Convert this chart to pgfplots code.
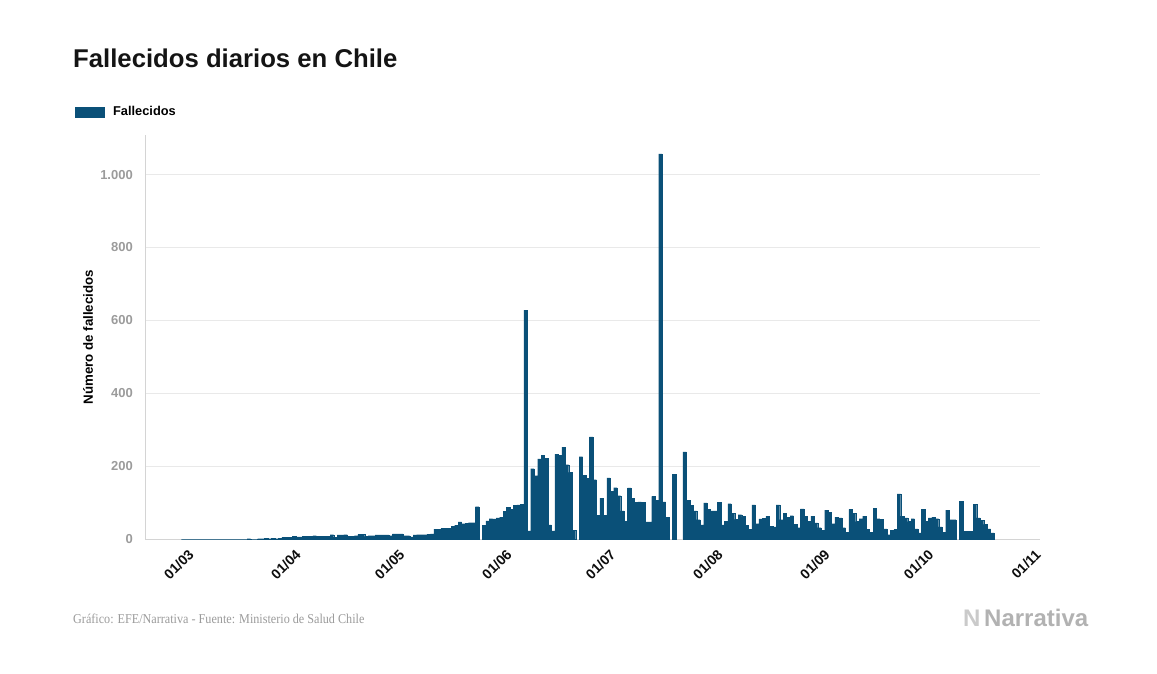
\documentclass[border=0pt]{standalone}
\usepackage{fontspec}
\setmainfont{Liberation Sans}
\newfontfamily\footfont[FakeStretch=0.9]{Liberation Serif}
\usepackage{pgfplots}
\pgfplotsset{compat=1.18}
\definecolor{barc}{HTML}{0A5078}
\definecolor{gridc}{HTML}{E9E9E9}
\definecolor{axc}{HTML}{D4D4D4}
\definecolor{tickg}{HTML}{9B9B9B}
\definecolor{footg}{HTML}{9A9A9A}
\definecolor{logog}{HTML}{B2B2B2}
\definecolor{logol}{HTML}{CACACA}
\begin{document}
\begin{tikzpicture}[x=1pt,y=1pt]
\path[use as bounding box] (0,0) rectangle (1157,-674);
\node[anchor=base west, inner sep=0pt, font=\fontsize{25.7}{30}\selectfont\bfseries, text=black!92] at (73,-67.5) {Fallecidos diarios en Chile};
\begin{axis}[
  at={(145pt,-539pt)}, anchor=south west,
  scale only axis, width=895pt, height=403.7pt,
  xmin=-11.05, xmax=247.8, ymin=0, ymax=1108,
  axis x line*=bottom, axis y line*=left,
  axis line style={draw=axc, line width=0.8pt},
  ymajorgrids, grid style={draw=gridc, line width=0.8pt},
  major tick length=0pt,
  ytick={0,200,400,600,800,1000},
  /pgf/number format/.cd, 1000 sep={.}, assume math mode=true,
  /pgfplots/.cd,
  yticklabel style={font=\fontsize{13}{15}\selectfont\bfseries, text=tickg, anchor=east, inner sep=0pt, xshift=-12pt},
  xtick={0,31,61,92,122,153,184,214,245},
  xticklabels={01/03,01/04,01/05,01/06,01/07,01/08,01/09,01/10,01/11},
  xticklabel style={font=\fontsize{14}{16}\selectfont\bfseries, text=black!95, xshift=8pt, yshift=-13pt, rotate=45, anchor=east, inner sep=0pt},
  ylabel={Número de fallecidos},
  ylabel style={at={(axis description cs:-0.0637,0.5)}, anchor=center, font=\fontsize{13.3}{15}\selectfont\bfseries, text=black},
  legend style={at={(axis description cs:-0.0782,1.0577)}, anchor=west, draw=none, fill=none, inner sep=0pt, column sep=9.5pt, nodes={inner sep=0pt}, font=\fontsize{12.8}{15}\selectfont\bfseries},
  clip=false,
]
\addplot[ybar, bar width=1, bar shift=0pt, fill=barc, draw=barc, line width=0.15pt,
  legend image code/.code={\fill[barc] (0pt,-5.3pt) rectangle (28.3pt,5.3pt);}]
coordinates {
(0,0)(1,0)(2,0)(3,0)(4,0)(5,0)(6,0)(7,0)(8,0)(9,0)
(10,0)(11,0)(12,0)(13,0)(14,0)(15,0)(16,0)(17,0)(18,0)(19,1)
(20,0)(21,0)(22,1)(23,1)(24,2)(25,1)(26,2)(27,1)(28,2)(29,4)
(30,4)(31,5)(32,7)(33,6)(34,6)(35,7)(36,7)(37,8)(38,9)(39,8)
(40,7)(41,8)(42,7)(43,12)(44,5)(45,11)(46,11)(47,12)(48,7)(49,7)
(50,9)(51,13)(52,13)(53,7)(54,9)(55,9)(56,11)(57,11)(58,11)(59,11)
(60,9)(61,14)(62,14)(63,14)(64,9)(65,9)(66,6)(67,11)(68,12)(69,12)
(70,12)(71,13)(72,14)(73,27)(74,27)(75,29)(76,29)(77,30)(78,35)(79,38)
(80,47)(81,42)(82,43)(83,45)(84,45)(85,89)(86,nan)(87,37)(88,50)(89,56)
(90,55)(91,58)(92,60)(93,76)(94,87)(95,82)(96,92)(97,94)(98,95)(99,628)
(100,22)(101,193)(102,174)(103,220)(104,230)(105,221)(106,39)(107,22)(108,233)(109,230)
(110,252)(111,204)(112,183)(113,24)(114,nan)(115,226)(116,175)(117,166)(118,280)(119,163)
(120,65)(121,112)(122,65)(123,168)(124,131)(125,141)(126,119)(127,77)(128,49)(129,140)
(130,111)(131,100)(132,102)(133,100)(134,47)(135,47)(136,117)(137,106)(138,1057)(139,102)
(140,59)(141,nan)(142,177)(143,nan)(144,nan)(145,239)(146,106)(147,92)(148,77)(149,53)
(150,39)(151,99)(152,81)(153,77)(154,77)(155,100)(156,39)(157,49)(158,97)(159,70)
(160,54)(161,67)(162,62)(163,38)(164,27)(165,94)(166,42)(167,55)(168,57)(169,62)
(170,35)(171,33)(172,94)(173,53)(174,70)(175,60)(176,64)(177,40)(178,31)(179,83)
(180,63)(181,49)(182,63)(183,44)(184,31)(185,24)(186,79)(187,74)(188,42)(189,60)
(190,58)(191,31)(192,19)(193,81)(194,70)(195,48)(196,56)(197,63)(198,27)(199,19)
(200,85)(201,56)(202,54)(203,28)(204,12)(205,24)(206,26)(207,124)(208,63)(209,58)
(210,48)(211,56)(212,28)(213,17)(214,81)(215,49)(216,58)(217,60)(218,56)(219,33)
(220,19)(221,79)(222,53)(223,53)(224,nan)(225,104)(226,21)(227,21)(228,21)(229,95)
(230,58)(231,51)(232,40)(233,28)(234,17)
};
\addlegendentry{Fallecidos}
\end{axis}
\node[anchor=base west, inner sep=0pt, font=\footfont\fontsize{13.5}{15}\selectfont, text=footg] at (73,-623) {Gráfico: EFE/Narrativa - Fuente: Ministerio de Salud Chile};
\node[anchor=base west, inner sep=0pt, font=\fontsize{24}{26}\selectfont\bfseries, text=logol] at (963,-626) {N};
\node[anchor=base west, inner sep=0pt, font=\fontsize{24}{26}\selectfont\bfseries, text=logog] at (984,-626) {Narrativa};
\end{tikzpicture}
\end{document}
